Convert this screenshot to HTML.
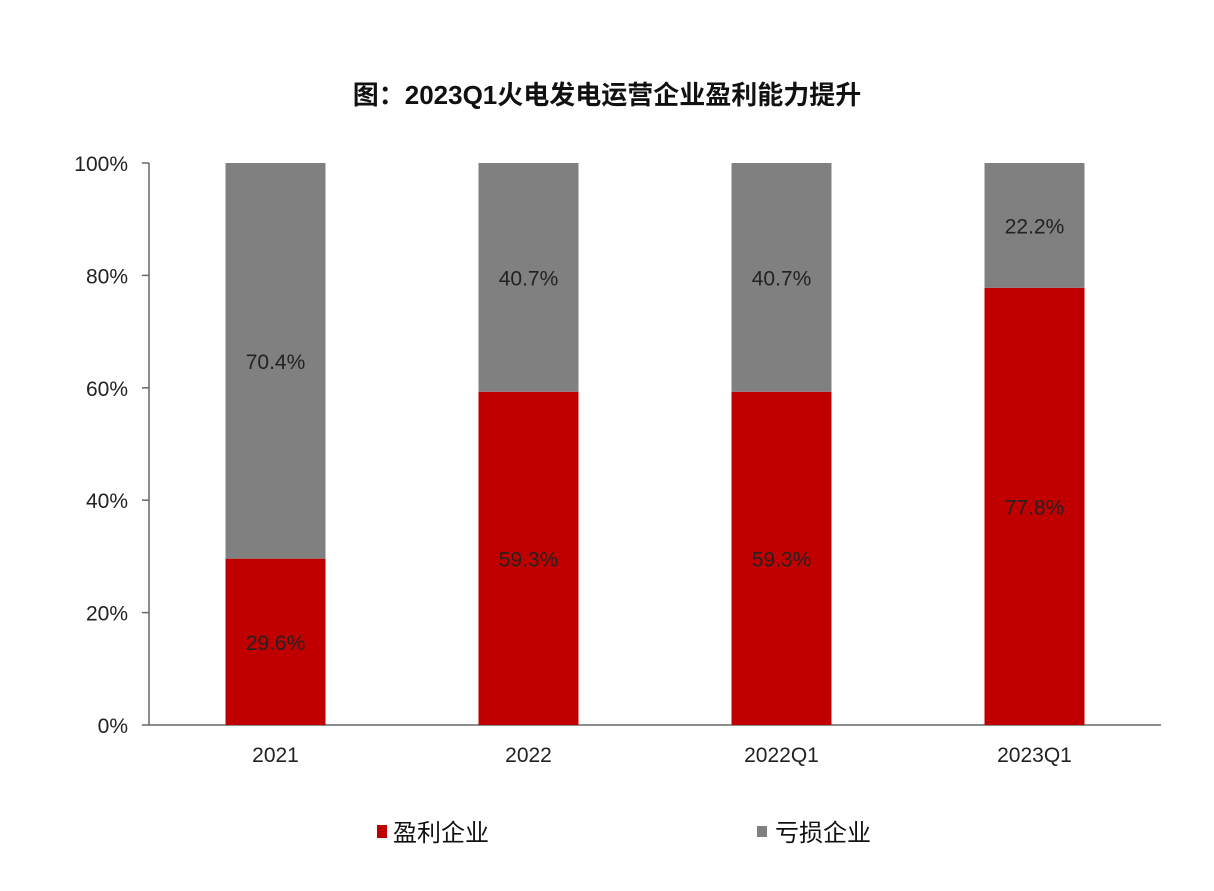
<!DOCTYPE html>
<html><head><meta charset="utf-8"><style>
html,body{margin:0;padding:0;background:#fff;}
svg text{font-family:"Liberation Sans","Noto Sans CJK SC",sans-serif;}
</style></head><body>
<svg id="chart" width="1214" height="886" xmlns="http://www.w3.org/2000/svg">
<rect width="1214" height="886" fill="#fff"/>
<text x="607" y="104" text-anchor="middle" font-size="26" font-weight="bold" fill="#111">图：2023Q1火电发电运营企业盈利能力提升</text>
<g id="axes"></g>
<g id="bars"></g>
<g>
<rect x="377" y="825" width="10" height="13" fill="#c00000"/>
<text x="393" y="841" font-size="24" fill="#111">盈利企业</text>
<rect x="757" y="826" width="10" height="11" fill="#808080"/>
<text x="775" y="841" font-size="24" fill="#111">亏损企业</text>
</g>
</svg>
<script>
const categories = ["2021","2022","2022Q1","2023Q1"];
const profitValues = [29.6,59.3,59.3,77.8];
const lossValues = [70.4,40.7,40.7,22.2];
const yTicks = [0,20,40,60,80,100];
const NS="http://www.w3.org/2000/svg";
const x0=149,x1=1161,yTop=163,yBot=725;
const y=v=>yBot-(v/100)*(yBot-yTop);
const band=(x1-x0)/categories.length;
const xc=i=>x0+band*(i+0.5);
const bw=100;
function mk(tag,attrs,parent){const e=document.createElementNS(NS,tag);for(const k in attrs)e.setAttribute(k,attrs[k]);parent.appendChild(e);return e;}
const axes=document.getElementById('axes'),bars=document.getElementById('bars');
yTicks.forEach(t=>{
  const l=mk('line',{x1:x0-7,x2:x0,y1:y(t),y2:y(t),stroke:'#666','stroke-width':1.5},axes);
  
  
  const tx=mk('text',{x:128,y:y(t)+8,'text-anchor':'end','font-size':21,fill:'#222'},axes);
  tx.textContent=t+'%';
  
  
});
categories.forEach((c,i)=>{
  const tx=mk('text',{x:xc(i),y:762,'text-anchor':'middle','font-size':21,fill:'#222'},axes);
  tx.textContent=c;
  
  
  const p=profitValues[i],l=lossValues[i];
  const r1=mk('rect',{x:xc(i)-bw/2,y:y(p),width:bw,height:yBot-y(p),fill:'#c00000'},bars);
  
  
  const r2=mk('rect',{x:xc(i)-bw/2,y:y(p+l),width:bw,height:y(p)-y(p+l),fill:'#808080'},bars);
  
  
  const t1=mk('text',{x:xc(i),y:(y(p)+yBot)/2+8,'text-anchor':'middle','font-size':21,fill:'#222'},bars);
  t1.textContent=p.toFixed(1)+'%';
  
  
  const t2=mk('text',{x:xc(i),y:(y(p)+y(p+l))/2+8,'text-anchor':'middle','font-size':21,fill:'#222'},bars);
  t2.textContent=l.toFixed(1)+'%';
  
  
});
const ya=mk('line',{x1:x0,x2:x0,y1:yTop,y2:yBot,stroke:'#666','stroke-width':1.5},axes);


const xa=mk('line',{x1:x0,x2:x1,y1:yBot,y2:yBot,stroke:'#666','stroke-width':1.5},axes);


</script>
</body></html>
